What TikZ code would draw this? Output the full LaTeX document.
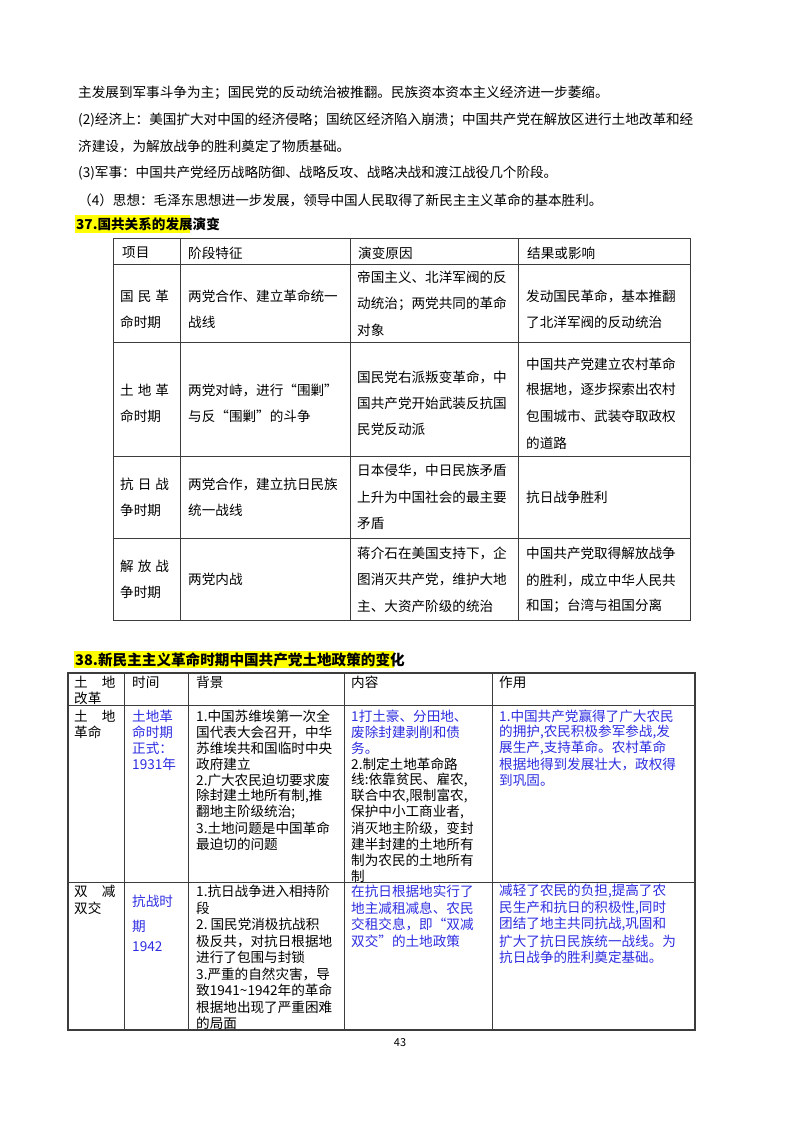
\documentclass[tikz,border=0pt]{standalone}
\usepackage{fontspec}
\setmainfont{Noto Sans CJK SC}
\begin{document}
\definecolor{hl}{RGB}{255,255,0}
\definecolor{bl}{RGB}{45,45,225}
\definecolor{ln}{RGB}{60,60,60}
\begin{tikzpicture}[x=1pt,y=-1pt,
  txt/.style={anchor=west,inner sep=0,font=\fontsize{13.6}{16}\selectfont},
  btxt/.style={txt,text=bl},
  head/.style={anchor=west,inner sep=0,font=\fontsize{13.6}{16}\selectfont\bfseries},
  grid/.style={draw=ln,line width=0.8pt},
  grid2/.style={draw=ln,line width=1.2pt}]
\useasboundingbox (0,0) rectangle (800,1132);
\newcommand\tl[3]{\node[txt] at (#1,#2) {#3};}
\newcommand\tb[3]{\node[btxt] at (#1,#2) {#3};}
% top paragraphs
\tl{78}{93}{主发展到军事斗争为主；国民党的反动统治被推翻。民族资本资本主义经济进一步萎缩。}
\tl{78}{120}{(2)经济上：美国扩大对中国的经济侵略；国统区经济陷入崩溃；中国共产党在解放区进行土地改革和经}
\tl{78}{146}{济建设，为解放战争的胜利奠定了物质基础。}
\tl{78}{173}{(3)军事：中国共产党经历战略防御、战略反攻、战略决战和渡江战役几个阶段。}
\tl{78}{200}{（4）思想：毛泽东思想进一步发展，领导中国人民取得了新民主主义革命的基本胜利。}
% title 37
\fill[hl] (75,215) rectangle (190,233);
\node[head] at (76,224) {37.国共关系的发展演变};
% table 1
\draw[grid] (113,238) rectangle (690,620);
\foreach \x in {180,350,518} \draw[grid] (\x,238) -- (\x,620);
\foreach \y in {264,342,456,538} \draw[grid] (113,\y) -- (690,\y);
\tl{122}{253}{项目}\tl{188}{253}{阶段特征}\tl{358}{253}{演变原因}\tl{527}{253}{结果或影响}
\tl{120}{296}{国\hspace{4pt}民\hspace{4pt}革}\tl{120}{322}{命时期}
\tl{188}{296}{两党合作、建立革命统一}\tl{188}{322}{战线}
\tl{357}{277}{帝国主义、北洋军阀的反}\tl{357}{304}{动统治；两党共同的革命}\tl{357}{330}{对象}
\tl{526}{296}{发动国民革命，基本推翻}\tl{526}{322}{了北洋军阀的反动统治}
\tl{120}{390}{土\hspace{4pt}地\hspace{4pt}革}\tl{120}{416}{命时期}
\tl{188}{390}{两党对峙，进行“围剿”}\tl{188}{416}{与反“围剿”的斗争}
\tl{357}{377}{国民党右派叛变革命，中}\tl{357}{403}{国共产党开始武装反抗国}\tl{357}{429}{民党反动派}
\tl{526}{364}{中国共产党建立农村革命}\tl{526}{390}{根据地，逐步探索出农村}\tl{526}{416}{包围城市、武装夺取政权}\tl{526}{443}{的道路}
\tl{120}{484}{抗\hspace{4pt}日\hspace{4pt}战}\tl{120}{510}{争时期}
\tl{188}{484}{两党合作，建立抗日民族}\tl{188}{510}{统一战线}
\tl{357}{470}{日本侵华，中日民族矛盾}\tl{357}{497}{上升为中国社会的最主要}\tl{357}{523}{矛盾}
\tl{526}{497}{抗日战争胜利}
\tl{120}{566}{解\hspace{4pt}放\hspace{4pt}战}\tl{120}{592}{争时期}
\tl{188}{579}{两党内战}
\tl{357}{553}{蒋介石在美国支持下，企}\tl{357}{580}{图消灭共产党，维护大地}\tl{357}{606}{主、大资产阶级的统治}
\tl{526}{553}{中国共产党取得解放战争}\tl{526}{580}{的胜利，成立中华人民共}\tl{526}{606}{和国；台湾与祖国分离}
% title 38
\fill[hl] (74,651) rectangle (394,668);
\node[head,font=\fontsize{14.6}{16}\selectfont\bfseries] at (75,660) {38.新民主主义革命时期中国共产党土地政策的变化};
% table 2
\foreach \x in {124,188,344,492} \draw[grid] (\x,673) -- (\x,1030);
\foreach \y in {705,882} \draw[grid] (68,\y) -- (695,\y);
\draw[grid2] (68,673) rectangle (695,1030);
\tl{74}{682}{土\hspace{14pt}地}\tl{74}{698}{改革}
\tl{132}{682}{时间}\tl{196}{682}{背景}\tl{351}{682}{内容}\tl{499}{682}{作用}
\tl{74}{716}{土\hspace{14pt}地}\tl{74}{732}{革命}
\tb{132}{716}{土地革}\tb{132}{732}{命时期}\tb{132}{748}{正式：}\tb{132}{764}{1931年}
\tl{196}{716}{1.中国苏维埃第一次全}\tl{196}{732}{国代表大会召开，中华}\tl{196}{748}{苏维埃共和国临时中央}\tl{196}{764}{政府建立}
\tl{196}{780}{2.广大农民迫切要求废}\tl{196}{796}{除封建土地所有制,推}\tl{196}{812}{翻地主阶级统治;}
\tl{196}{828}{3.土地问题是中国革命}\tl{196}{844}{最迫切的问题}
\tb{351}{716}{1打土豪、分田地、}\tb{351}{732}{废除封建剥削和债}\tb{351}{748}{务。}
\tl{351}{764}{2.制定土地革命路}\tl{351}{780}{线:依靠贫民、雇农,}\tl{351}{796}{联合中农,限制富农,}\tl{351}{812}{保护中小工商业者,}
\tl{351}{828}{消灭地主阶级，变封}\tl{351}{844}{建半封建的土地所有}\tl{351}{860}{制为农民的土地所有}\tl{351}{876}{制}
\tb{499}{716}{1.中国共产党赢得了广大农民}\tb{499}{732}{的拥护,农民积极参军参战,发}\tb{499}{748}{展生产,支持革命。农村革命}\tb{499}{764}{根据地得到发展壮大，政权得}\tb{499}{780}{到巩固。}
\tl{74}{891}{双\hspace{14pt}减}\tl{74}{908}{双交}
\tb{132}{901}{抗战时}\tb{132}{926}{期}\tb{132}{947}{1942}
\tl{196}{891}{1.抗日战争进入相持阶}\tl{196}{908}{段}\tl{196}{924}{2.\ 国民党消极抗战积}\tl{196}{941}{极反共，对抗日根据地}
\tl{196}{957}{进行了包围与封锁}\tl{196}{974}{3.严重的自然灾害，导}\tl{196}{990}{致1941\textasciitilde1942年的革命}\tl{196}{1007}{根据地出现了严重困难}\tl{196}{1023}{的局面}
\tb{351}{891}{在抗日根据地实行了}\tb{351}{908}{地主减租减息、农民}\tb{351}{924}{交租交息，即“双减}\tb{351}{941}{双交”的土地政策}
\tb{499}{891}{减轻了农民的负担,提高了农}\tb{499}{908}{民生产和抗日的积极性,同时}\tb{499}{924}{团结了地主共同抗战,巩固和}\tb{499}{941}{扩大了抗日民族统一战线。为}\tb{499}{957}{抗日战争的胜利奠定基础。}
\node[txt,anchor=center,font=\fontsize{11}{13}\selectfont] at (400,1043) {43};
\end{tikzpicture}
\end{document}
